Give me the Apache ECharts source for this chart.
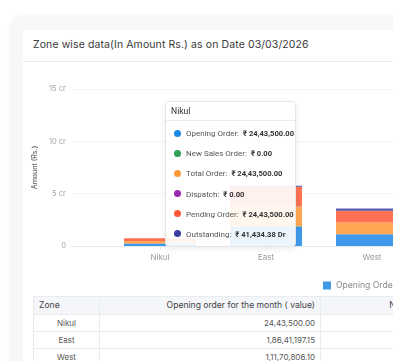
<!DOCTYPE html>
<html><head><meta charset="utf-8">
<script src="https://cdn.jsdelivr.net/npm/echarts@6/dist/echarts.min.js"></script>
<style>
html,body{margin:0;padding:0;background:#fff;width:393px;height:361px;overflow:hidden;font-family:Inter,"Open Sans",sans-serif;}
#outer{position:absolute;left:10px;top:15px;width:520px;height:420px;background:#f6f7f9;border-radius:14px;box-shadow:0 0 4px rgba(0,0,0,0.04);}
#card{position:absolute;left:23px;top:30px;width:520px;height:400px;background:#fff;}
#title{position:absolute;left:33px;top:38px;font-size:10.5px;color:#3a3a3a;white-space:nowrap;letter-spacing:0.1px;}
#hdrline{position:absolute;left:23px;top:61px;width:520px;height:1px;background:#ececec;}
#chart{position:absolute;left:23px;top:62px;width:530px;height:232px;}
#tbl{position:absolute;left:33px;top:296px;width:518px;}
.row{display:flex;border-bottom:1px solid #e9ecef;}
.row.hd{background:#f4f6f9;border-top:1px solid #e9ecef;}
.cell{box-sizing:border-box;border-left:1px solid #e9ecef;padding:0 5px;white-space:nowrap;overflow:hidden;color:#555;font-size:8px;height:16px;line-height:16px;flex:none;}
.cell:last-child{border-right:1px solid #e9ecef;}
.hd .cell{height:17px;line-height:17px;font-size:8.6px;color:#444;}
.c0{width:66px;display:flex;justify-content:center;}
.hd .c0{justify-content:flex-start;}
.c1{width:221px;text-align:right;}
.c2{width:231px;text-align:right;}
</style></head>
<body>
<div id="outer"></div>
<div id="card"></div>
<div id="title">Zone wise data(In Amount Rs.) as on Date 03/03/2026</div>
<div id="hdrline"></div>
<div id="chart"></div>
<div id="tbl"></div>
<script>
// ---- data ----
const zones = ['Nikul', 'East', 'West'];
const seriesNames = ['Opening Order', 'New Sales Order', 'Total Order', 'Dispatch', 'Pending Order', 'Outstanding'];
const openingOrder = [2443500.00, 18641197.15, 11170806.10];
const newSalesOrder = [0, 250000.00, 50000.00];
const totalOrder = [2443500.00, 18891197.15, 11220806.10];
const dispatch = [0, 150000.00, 80000.00];
const pendingOrder = [2443500.00, 18741197.15, 11140806.10];
const outstanding = [41434.38, 1000000.00, 2100000.00];
const yTicks = [0, 50000000, 100000000, 150000000];
const tableHeaders = ['Zone', 'Opening order for the month ( value)', 'New sales order for the month ( value)'];

const colors = ['#1e88e5', '#2e9e4f', '#ff9a38', '#9c27b0', '#ff5a36', '#3a3ca0'];
const allSeries = [openingOrder, newSalesOrder, totalOrder, dispatch, pendingOrder, outstanding];

function inr(n){
  const parts = Math.abs(n).toFixed(2).split('.');
  let i = parts[0], last3 = i.slice(-3), rest = i.slice(0, -3);
  if (rest) last3 = ',' + last3;
  rest = rest.replace(/\B(?=(\d{2})+(?!\d))/g, ',');
  return rest + last3 + '.' + parts[1];
}

// ---- table ----
const tbl = document.getElementById('tbl');
let html = '<div class="row hd"><div class="cell c0"><span>' + tableHeaders[0] + '</span></div><div class="cell c1">' + tableHeaders[1] + '</div><div class="cell c2">' + tableHeaders[2] + '</div></div>';
zones.forEach((z, i) => {
  html += '<div class="row"><div class="cell c0"><span>' + z + '</span></div><div class="cell c1">' + inr(openingOrder[i]) + '</div><div class="cell c2">' + inr(newSalesOrder[i]) + '</div></div>';
});
tbl.innerHTML = html;

// ---- chart ----
const chart = echarts.init(document.getElementById('chart'), null, {renderer: 'canvas'});
const yMin = yTicks[0], yMax = yTicks[yTicks.length - 1], yInt = yTicks[1] - yTicks[0];

const series = seriesNames.map((name, s) => ({
  name: name,
  type: 'bar',
  stack: 'total',
  barWidth: 72,
  xAxisIndex: 1, yAxisIndex: 1,
  itemStyle: {color: colors[s], opacity: 0.86},
  emphasis: {disabled: true},
  data: allSeries[s]
}));

chart.setOption({
  animation: false,
  color: colors,
  grid: [
    {left: 47, top: 27, width: 470, height: 157},
    {left: 84, top: 27, width: 318, height: 157}
  ],
  legend: {
    type: 'scroll', pageButtonPosition: 'end',
    left: 295, top: 211, width: 600, itemWidth: 8, itemHeight: 8, icon: 'rect', itemGap: 10, itemTextGap: 3,
    textStyle: {fontSize: 8.6, color: '#8a8a8a', fontFamily: 'Inter'},
    data: seriesNames
  },
  tooltip: {
    trigger: 'item',
    alwaysShowContent: true,
    triggerOn: 'none',
    transitionDuration: 0,
    position: [142, 39],
    padding: 0,
    borderWidth: 1,
    borderColor: '#e6e6e6',
    backgroundColor: 'rgba(255,255,255,0.9)',
    extraCssText: 'border-radius:4px;box-shadow:0 2px 6px rgba(0,0,0,0.08);width:129px;',
    formatter: function (p) {
      const i = p.dataIndex;
      let h = '<div style="font-family:Roboto,Arial,sans-serif;">';
      h += '<div style="height:18px;line-height:19px;padding-left:5px;font-size:8.6px;color:#333;border-bottom:1px solid #ececec;">' + zones[i] + '</div>';
      h += '<div style="padding-top:3px;padding-bottom:1px;">';
      seriesNames.forEach((n, s) => {
        let val = '₹ ' + inr(allSeries[s][i]);
        if (s === 5) val += ' Dr';
        h += '<div style="height:20.2px;line-height:20.2px;font-size:8px;white-space:nowrap;">' +
          '<span style="display:inline-block;width:7px;height:7px;border-radius:50%;background:' + colors[s] + ';margin-left:8px;margin-right:5px;vertical-align:-0.5px;"></span>' +
          '<span style="color:#555;">' + n + ':</span>' +
          '<span style="color:#333;font-weight:bold;font-size:7.6px;margin-left:4px;">' + val + '</span></div>';
      });
      h += '</div></div>';
      return h;
    }
  },
  xAxis: [
    {
      type: 'value', gridIndex: 0, min: 0, max: 1,
      splitLine: {show: false}, axisTick: {show: false}, axisLabel: {show: false},
      axisLine: {show: true, lineStyle: {color: '#e6e9ef'}}
    },
    {
      type: 'category', gridIndex: 1, data: zones,
      axisLine: {show: false},
      axisTick: {show: true, alignWithLabel: true, length: 4, lineStyle: {color: '#e6e9ef'}},
      axisLabel: {margin: 8, fontSize: 8, color: '#9a9a9a', fontFamily: 'Inter'}
    }
  ],
  yAxis: [
    {
      type: 'value', gridIndex: 0,
      min: yMin, max: yMax, interval: yInt,
      name: 'Amount (Rs.)', nameLocation: 'middle', nameGap: 29, nameRotate: 90,
      nameTextStyle: {fontSize: 7, color: '#666', fontFamily: 'Inter', fontWeight: 500},
      axisLine: {show: false}, axisTick: {show: false},
      splitLine: {lineStyle: {color: '#f3f3f5'}},
      axisLabel: {
        margin: 6, fontSize: 7.5, color: '#a5a5a5', fontFamily: 'Inter',
        formatter: v => v === 0 ? '0' : (v / 10000000) + ' cr'
      }
    },
    {
      type: 'value', gridIndex: 1, min: yMin, max: yMax, interval: yInt, show: false,
      splitLine: {show: false}
    }
  ],
  series: series
});
chart.dispatchAction({type: 'showTip', seriesIndex: 0, dataIndex: 0});
</script>
</body></html>
